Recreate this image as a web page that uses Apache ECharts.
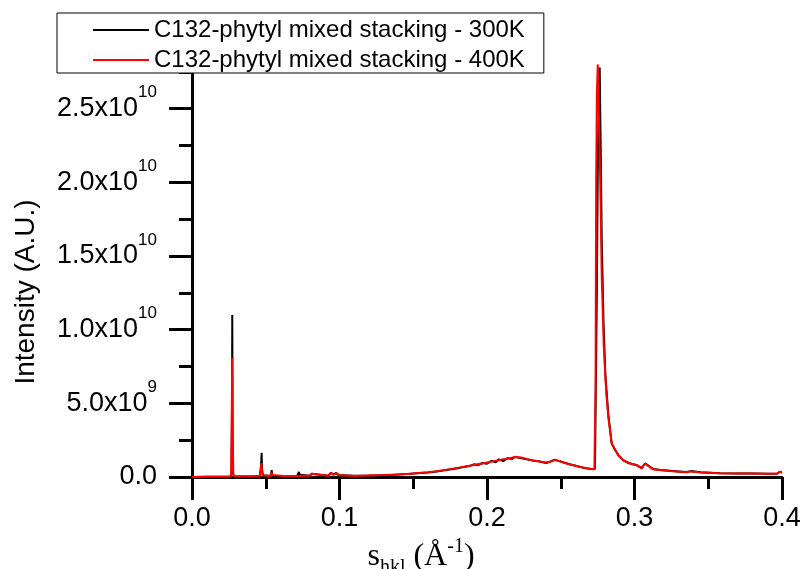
<!DOCTYPE html>
<html>
<head>
<meta charset="utf-8">
<script src="https://cdn.jsdelivr.net/npm/echarts@6/dist/echarts.min.js"></script>
<style>
  html, body { margin: 0; padding: 0; background: #ffffff; }
  #chart { width: 806px; height: 569px; }
</style>
</head>
<body>
<div id="chart"></div>
<script>
// Scattering vector s_hkl (1/Å) and intensity (A.U.) for the 300 K run
const s300 = [
  0.000, 0.010, 0.020, 0.0262, 0.0268, 0.0271, 0.0273, 0.0275, 0.0278, 0.0284,
  0.035, 0.042, 0.0460, 0.0466, 0.0470, 0.0472, 0.0475, 0.0480, 0.0488,
  0.0530, 0.0537, 0.0540, 0.0544, 0.0552, 0.062,
  0.0712, 0.0720, 0.0725, 0.0730, 0.0738,
  0.0800, 0.0810, 0.0818, 0.0826, 0.0836,
  0.0925, 0.0935, 0.0942, 0.0955, 0.0962, 0.0975, 0.0983, 0.0992, 0.1005,
  0.110, 0.120, 0.128, 0.135, 0.142, 0.148, 0.155, 0.160, 0.166, 0.171,
  0.176, 0.180, 0.184, 0.188, 0.191, 0.194, 0.197, 0.200, 0.203, 0.206,
  0.208, 0.211, 0.214, 0.217, 0.219, 0.222, 0.225, 0.228, 0.231, 0.234,
  0.237, 0.240, 0.243, 0.246, 0.249, 0.252, 0.256, 0.260, 0.264, 0.268,
  0.2718, 0.2732, 0.2738, 0.2744, 0.2752, 0.2764, 0.2770, 0.2778, 0.2790,
  0.2802, 0.2822, 0.2845, 0.2868, 0.2890, 0.2922, 0.2960, 0.3015, 0.3049,
  0.3062, 0.3071, 0.3090, 0.3125, 0.3180, 0.3240, 0.3300, 0.3356, 0.3380,
  0.3450, 0.3580, 0.3700, 0.3800, 0.3900, 0.3966, 0.3985, 0.4000
];
const i300 = [
  0.00e9, 0.01e9, 0.01e9, 0.02e9, 0.30e9, 4.0e9, 1.10e10, 3.0e9, 0.30e9, 0.03e9,
  0.04e9, 0.05e9, 0.06e9, 0.50e9, 1.20e9, 1.65e9, 0.50e9, 0.12e9, 0.06e9,
  0.06e9, 0.25e9, 0.47e9, 0.20e9, 0.06e9, 0.06e9,
  0.06e9, 0.18e9, 0.34e9, 0.16e9, 0.07e9,
  0.08e9, 0.22e9, 0.34e9, 0.20e9, 0.08e9,
  0.09e9, 0.22e9, 0.30e9, 0.16e9, 0.18e9, 0.26e9, 0.28e9, 0.14e9, 0.08e9,
  0.08e9, 0.10e9, 0.12e9, 0.14e9, 0.18e9, 0.22e9, 0.27e9, 0.31e9, 0.38e9, 0.46e9,
  0.52e9, 0.60e9, 0.68e9, 0.74e9, 0.86e9, 0.80e9, 0.95e9, 0.90e9, 1.10e9, 1.00e9,
  1.20e9, 1.08e9, 1.28e9, 1.22e9, 1.38e9, 1.30e9, 1.24e9, 1.18e9, 1.12e9, 1.08e9,
  1.02e9, 0.95e9, 1.05e9, 1.18e9, 1.08e9, 0.98e9, 0.86e9, 0.76e9, 0.66e9, 0.58e9,
  0.52e9, 0.55e9, 0.60e9, 1.20e10, 2.20e10, 2.78e10, 2.30e10, 1.60e10, 1.05e10,
  7.0e9, 4.3e9, 2.3e9, 1.85e9, 1.50e9, 1.15e9, 0.95e9, 0.80e9, 0.60e9,
  0.72e9, 0.92e9, 0.80e9, 0.55e9, 0.48e9, 0.42e9, 0.38e9, 0.34e9, 0.40e9,
  0.32e9, 0.26e9, 0.24e9, 0.24e9, 0.22e9, 0.22e9, 0.36e9, 0.30e9
];

// Same quantities for the 400 K run
const s400 = [
  0.000, 0.010, 0.020, 0.0262, 0.0266, 0.0269, 0.0273, 0.0276, 0.0280, 0.0286,
  0.035, 0.042, 0.0460, 0.0466, 0.0470, 0.0472, 0.0475, 0.0480, 0.0488,
  0.0530, 0.0537, 0.0540, 0.0544, 0.0552, 0.062,
  0.0712, 0.0720, 0.0725, 0.0730, 0.0738,
  0.0800, 0.0810, 0.0818, 0.0826, 0.0836,
  0.0925, 0.0935, 0.0942, 0.0955, 0.0962, 0.0975, 0.0983, 0.0992, 0.1005,
  0.110, 0.120, 0.130, 0.140, 0.150, 0.160, 0.170, 0.180, 0.190, 0.200,
  0.210, 0.215, 0.219, 0.223, 0.227, 0.232, 0.236, 0.240, 0.243, 0.246,
  0.250, 0.255, 0.260, 0.265, 0.270,
  0.2728, 0.2732, 0.2736, 0.2740, 0.2745, 0.2751, 0.2760, 0.2768, 0.2778,
  0.2792, 0.2808, 0.2822, 0.2845, 0.2868, 0.2890, 0.2922, 0.2960, 0.3015, 0.3049,
  0.3062, 0.3071, 0.3090, 0.3125, 0.3180, 0.3240, 0.3300, 0.3356, 0.3380,
  0.3450, 0.3580, 0.3700, 0.3800, 0.3900, 0.3966, 0.3985, 0.4000
];
const i400 = [
  0.00e9, 0.01e9, 0.01e9, 0.02e9, 0.40e9, 3.7e9, 8.1e9, 3.0e9, 0.20e9, 0.05e9,
  0.05e9, 0.05e9, 0.06e9, 0.60e9, 0.95e9, 1.04e9, 0.45e9, 0.10e9, 0.06e9,
  0.06e9, 0.18e9, 0.30e9, 0.14e9, 0.06e9, 0.06e9,
  0.06e9, 0.10e9, 0.15e9, 0.09e9, 0.06e9,
  0.08e9, 0.22e9, 0.34e9, 0.20e9, 0.08e9,
  0.09e9, 0.20e9, 0.28e9, 0.15e9, 0.16e9, 0.24e9, 0.27e9, 0.12e9, 0.07e9,
  0.07e9, 0.10e9, 0.13e9, 0.17e9, 0.24e9, 0.32e9, 0.45e9, 0.62e9, 0.80e9, 0.98e9,
  1.18e9, 1.25e9, 1.36e9, 1.32e9, 1.22e9, 1.10e9, 1.05e9, 0.98e9, 1.04e9, 1.15e9,
  1.05e9, 0.88e9, 0.76e9, 0.64e9, 0.56e9,
  0.52e9, 0.60e9, 6.0e9, 2.00e10, 2.60e10, 2.80e10, 2.40e10, 2.00e10, 1.35e10,
  8.8e9, 5.8e9, 4.1e9, 2.3e9, 1.83e9, 1.48e9, 1.15e9, 0.95e9, 0.80e9, 0.58e9,
  0.70e9, 0.92e9, 0.78e9, 0.52e9, 0.46e9, 0.40e9, 0.36e9, 0.32e9, 0.38e9,
  0.30e9, 0.25e9, 0.23e9, 0.23e9, 0.22e9, 0.22e9, 0.36e9, 0.28e9
];

const seriesNames = [
  'C132-phytyl mixed stacking - 300K',
  'C132-phytyl mixed stacking - 400K'
];
const seriesColors = ['#000000', '#ff0000'];

const pairs = (xs, ys) => xs.map((x, k) => [x, ys[k]]);

// Intensity ticks read as "2.5x10^10", "5.0x10^9", "0.0"
function intensityLabel(v) {
  if (v === 0) return '0.0';
  const e = Math.floor(Math.log10(v) + 1e-9);
  const m = (v / Math.pow(10, e)).toFixed(1);
  return m + 'x10{sup|' + e + '}';
}

const sans = '"Liberation Sans", Arial, sans-serif';
const serif = '"Liberation Serif", "Times New Roman", serif';

const chart = echarts.init(document.getElementById('chart'), null, { renderer: 'canvas' });
chart.setOption({
  animation: false,
  backgroundColor: '#ffffff',
  grid: { left: 192, right: 24, top: 35, bottom: 92, containLabel: false, outerBoundsMode: 'none' },
  legend: {
    orient: 'vertical',
    left: 57,
    top: 13,
    padding: [4, 19, 0, 36],
    itemGap: 4,
    itemWidth: 56,
    itemHeight: 2,
    icon: 'rect',
    backgroundColor: '#ffffff',
    borderColor: '#000000',
    borderWidth: 1,
    textStyle: { fontFamily: sans, fontSize: 24, color: '#000', lineHeight: 26 },
    data: seriesNames
  },
  xAxis: {
    type: 'value',
    min: 0,
    max: 0.4,
    interval: 0.1,
    name: 's{sub|hkl} (Å{sup|-1})',
    nameLocation: 'middle',
    nameGap: 49,
    nameTextStyle: {
      fontFamily: serif, fontSize: 32, color: '#000',
      padding: [0, 132, 0, 0],
      rich: {
        sub: { fontFamily: serif, fontSize: 20, padding: [22, 0, 0, 0] },
        sup: { fontFamily: serif, fontSize: 20, padding: [0, 0, 20, 0] }
      }
    },
    axisLine: { lineStyle: { color: '#000', width: 3 } },
    axisTick: { length: 23, lineStyle: { color: '#000', width: 3 } },
    minorTick: { show: true, splitNumber: 2, length: 12, lineStyle: { color: '#000', width: 3 } },
    splitLine: { show: false },
    axisLabel: {
      margin: 28, fontFamily: sans, fontSize: 27, color: '#000',
      formatter: v => v.toFixed(1)
    }
  },
  yAxis: {
    type: 'value',
    min: 0,
    max: 3e10,
    interval: 5e9,
    name: 'Intensity (A.U.)',
    nameLocation: 'middle',
    nameGap: 152,
    nameTextStyle: { fontFamily: sans, fontSize: 28, color: '#000', padding: [0, 72, 0, 0] },
    axisLine: { show: true, lineStyle: { color: '#000', width: 3 } },
    axisTick: { length: 23, lineStyle: { color: '#000', width: 3 } },
    minorTick: { show: true, splitNumber: 2, length: 13, lineStyle: { color: '#000', width: 3 } },
    splitLine: { show: false },
    axisLabel: {
      margin: 35, fontFamily: sans, fontSize: 27, color: '#000',
      showMaxLabel: false,
      formatter: intensityLabel,
      rich: { sup: { fontFamily: sans, fontSize: 17, color: '#000', padding: [0, 0, 32, 0] } }
    }
  },
  series: [
    {
      name: seriesNames[0], type: 'line', data: pairs(s300, i300),
      symbol: 'none', color: seriesColors[0],
      lineStyle: { color: seriesColors[0], width: 2 }, z: 2
    },
    {
      name: seriesNames[1], type: 'line', data: pairs(s400, i400),
      symbol: 'none', color: seriesColors[1],
      lineStyle: { color: seriesColors[1], width: 2 }, z: 3
    }
  ]
});
</script>
</body>
</html>
